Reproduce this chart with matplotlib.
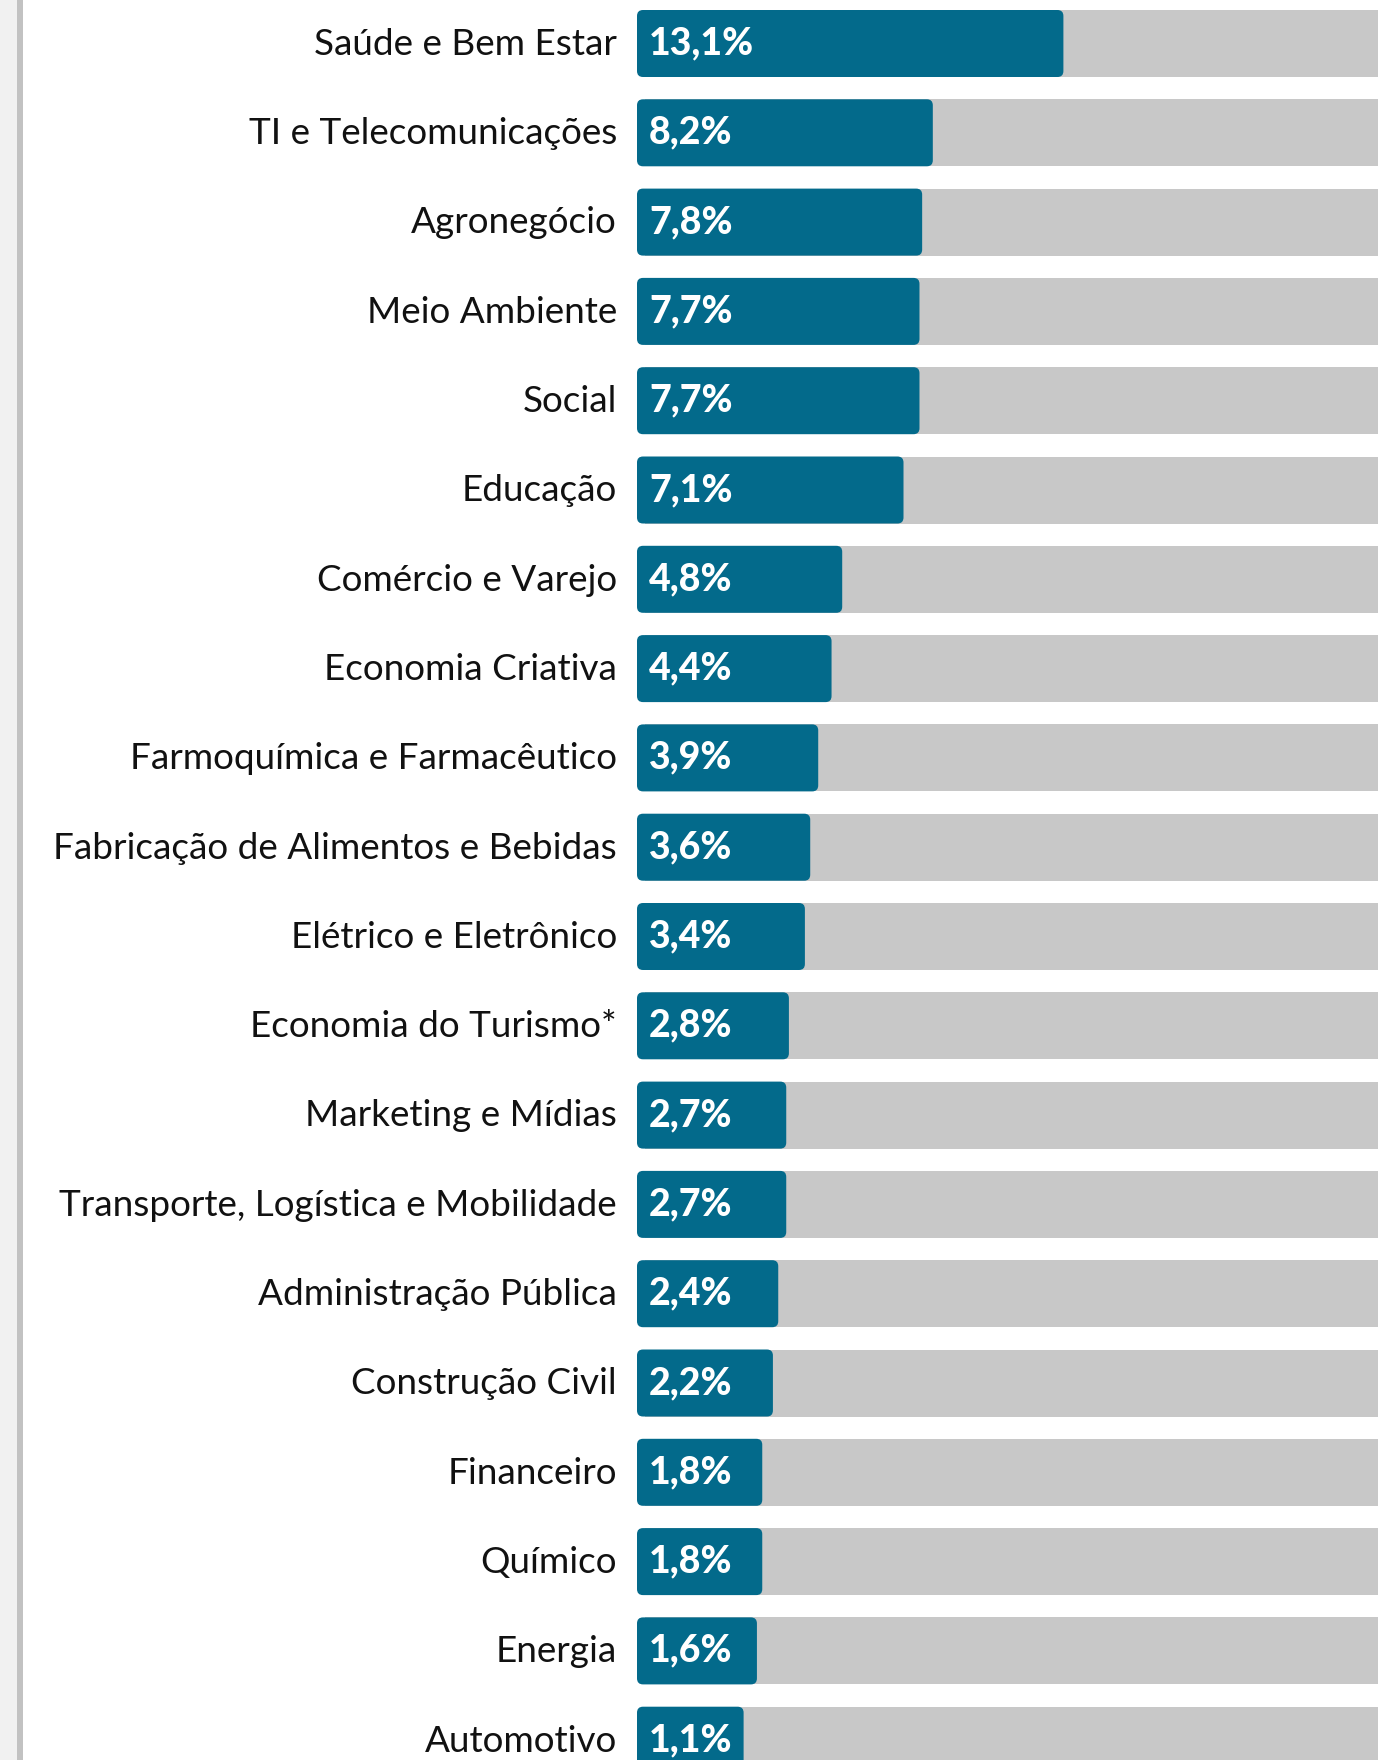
import matplotlib
matplotlib.use("Agg")
import matplotlib.pyplot as plt
from matplotlib.patches import FancyBboxPatch, Rectangle

categories = [
    "Saúde e Bem Estar", "TI e Telecomunicações", "Agronegócio", "Meio Ambiente",
    "Social", "Educação", "Comércio e Varejo", "Economia Criativa",
    "Farmoquímica e Farmacêutico", "Fabricação de Alimentos e Bebidas",
    "Elétrico e Eletrônico", "Economia do Turismo*", "Marketing e Mídias",
    "Transporte, Logística e Mobilidade", "Administração Pública",
    "Construção Civil", "Financeiro", "Químico", "Energia", "Automotivo",
]
values = [13.1, 8.2, 7.8, 7.7, 7.7, 7.1, 4.8, 4.4, 3.9, 3.6,
          3.4, 2.8, 2.7, 2.7, 2.4, 2.2, 1.8, 1.8, 1.6, 1.1]
value_labels = ["13,1%", "8,2%", "7,8%", "7,7%", "7,7%", "7,1%", "4,8%", "4,4%",
                "3,9%", "3,6%", "3,4%", "2,8%", "2,7%", "2,7%", "2,4%", "2,2%",
                "1,8%", "1,8%", "1,6%", "1,1%"]

W, H = 1378, 1760
DPI = 100
BLUE = "#036a8b"
GRAY = "#c8c8c8"

fig = plt.figure(figsize=(W / DPI, H / DPI), dpi=DPI)
fig.patch.set_facecolor("white")

# left decorative strip
fig.patches.append(Rectangle((0, 0), 17 / W, 1, transform=fig.transFigure,
                             facecolor="#f1f1f1", edgecolor="none"))
fig.patches.append(Rectangle((17 / W, 0), 6 / W, 1, transform=fig.transFigure,
                             facecolor="#c2c2c2", edgecolor="none"))

bar_x0 = 637  # px where bars begin
px_per_unit = 26.65
offset = 2.9  # bars start this many units left of zero
pitch = 89.3
first_center = 43.5
bar_h_px = 67

ax = fig.add_axes([bar_x0 / W, 0, 1 - bar_x0 / W, 1])
xmax = (W - bar_x0) / px_per_unit - offset
ax.set_xlim(-offset, xmax)
ytop = -first_center / pitch
ybot = (H - first_center) / pitch
ax.set_ylim(ybot, ytop)
ax.axis("off")

bh = bar_h_px / pitch
r_px = 6
asp = px_per_unit / pitch

for i, (cat, v, lab) in enumerate(zip(categories, values, value_labels)):
    ax.add_patch(Rectangle((-offset + 0.3, i - bh / 2), xmax + offset + 5, bh,
                           facecolor=GRAY, edgecolor="none", zorder=1))
    ax.add_patch(FancyBboxPatch((-offset, i - bh / 2), v + offset, bh,
                                boxstyle=f"round,pad=0,rounding_size={r_px / px_per_unit}",
                                mutation_aspect=asp,
                                facecolor=BLUE, edgecolor="none", zorder=2))
    ax.text(-offset + 12 / px_per_unit, i, lab, color="white", fontsize=27,
            fontfamily="Lato", fontweight=900, va="center", ha="left", zorder=3)
    ax.text(-offset - 20 / px_per_unit, i + 0.01, cat, color="#111111", fontsize=26.6,
            fontfamily="Lato", va="center", ha="right", zorder=3, clip_on=False)

fig.savefig("out.png", dpi=DPI)
